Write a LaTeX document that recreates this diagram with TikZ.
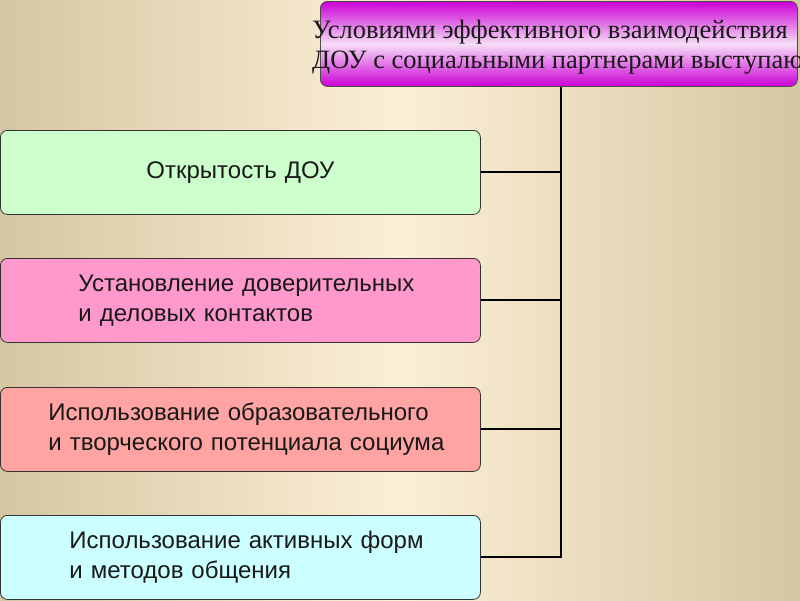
\documentclass[tikz,border=0pt]{standalone}
\usepackage{fontspec}
\setmainfont{Liberation Serif}
\newfontfamily\boxsans{Liberation Sans}
\definecolor{bgdark}{HTML}{D6C6A2}
\definecolor{bglight}{HTML}{FBEFD6}
\definecolor{cgreen}{HTML}{CCFFCC}
\definecolor{cpink}{HTML}{FF99CC}
\definecolor{csalmon}{HTML}{FFA3A3}
\definecolor{ccyan}{HTML}{CCFFFF}
\definecolor{magtop}{HTML}{CC00D6}
\definecolor{magmid}{HTML}{F6DDF6}
\newcommand\padln[1]{\hspace*{#1}}
\begin{document}
\begin{tikzpicture}[x=1pt,y=-1pt,
  box/.style={draw=black!80, line width=0.8pt, rounded corners=7pt,
    minimum width=480pt, minimum height=84pt, text width=480pt,
    inner xsep=0pt, inner ysep=0pt, anchor=north west, align=left,
    font=\boxsans\fontsize{24}{29.5}\selectfont, text=black!90},
  topbox/.style={draw=black!70, line width=0.8pt, rounded corners=7pt,
    top color=magtop, bottom color=magtop, middle color=magmid,
    minimum width=477pt, minimum height=85pt, anchor=north west, inner sep=0pt},
  toptext/.style={font=\fontsize{26.5}{30}\selectfont, align=left, inner sep=0pt,
    anchor=north west, text=black!90},
  conn/.style={line width=2pt, black}]
\useasboundingbox (0,0) rectangle (800,600);
\shade[left color=bgdark, right color=bgdark, middle color=bglight] (0,0) rectangle (800,600);

\node[topbox] (top) at (320,1) {};
\node[toptext] (toptxt) at (312,20) {Условиями эффективного взаимодействия\\ДОУ с социальными партнерами выступают};

\node[box, fill=cgreen, align=center] (b1) at (0,130) {Открытость ДОУ};
\node[box, fill=cpink] (b2) at (0,258) {\padln{78pt}Установление доверительных\\\padln{78pt}и деловых контактов};
\node[box, fill=csalmon] (b3) at (0,387) {\padln{48pt}Использование образовательного\\\padln{48pt}и творческого потенциала социума};
\node[box, fill=ccyan] (b4) at (0,515) {\padln{69pt}Использование активных форм\\\padln{69pt}и методов общения};

\coordinate (j) at (561,557);
\draw[conn] (top.south -| j) -- (j) -- (b4.east |- j);
\draw[conn] (b1.east) -- (b1.east -| j);
\draw[conn] (b2.east) -- (b2.east -| j);
\draw[conn] (b3.east) -- (b3.east -| j);
\end{tikzpicture}
\end{document}
